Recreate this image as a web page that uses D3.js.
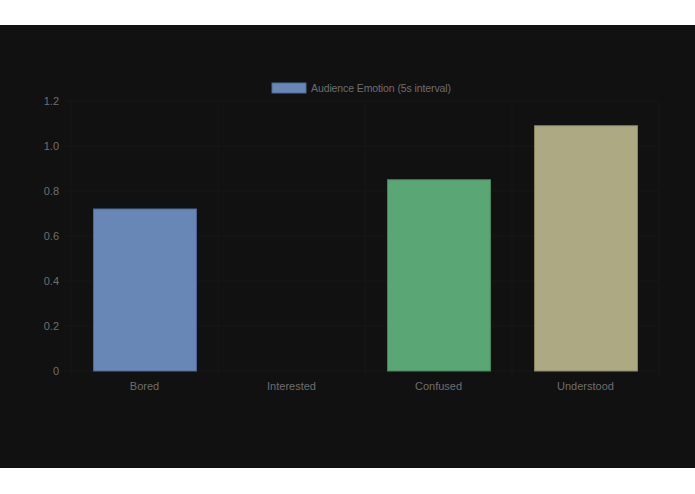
<!DOCTYPE html>
<html lang="en">
<head>
<meta charset="UTF-8">
<title>Audience Emotion</title>
<script src="https://d3js.org/d3.v7.min.js"></script>
<style>
    html, body { margin: 0; padding: 0; background: #fff; }
    svg { display: block; }
    text { font-family: "Liberation Sans", Arial, sans-serif; }
</style>
</head>
<body>
<svg width="695" height="494"></svg>
<script>
    const categories = ["Bored", "Interested", "Confused", "Understood"];
    const values = [0.72, 0, 0.85, 1.09];
    const barColors = ["#6886b6", "#6886b6", "#5ba675", "#aca983"];
    const borderColors = ["#4e6a96", "#4e6a96", "#47875d", "#8c8966"];
    const yTicks = [0, 0.2, 0.4, 0.6, 0.8, 1.0, 1.2];
    const seriesName = "Audience Emotion (5s interval)";

    const svg = d3.select("svg");
    const margin = {top: 101, right: 36, bottom: 123, left: 71};
    const width = 695 - margin.left - margin.right,
          height = 494 - margin.top - margin.bottom;

    // dark panel
    svg.append("rect")
        .attr("x", 0).attr("y", 25)
        .attr("width", 695).attr("height", 443)
        .attr("fill", "#111111");

    const g = svg.append("g")
        .attr("transform", `translate(${margin.left},${margin.top})`);

    const x = d3.scaleBand().domain(categories).range([0, width]);
    const y = d3.scaleLinear().domain([0, 1.2]).range([height, 0]);

    // grid lines (barely visible)
    g.append("g")
        .selectAll("line")
        .data(yTicks)
        .join("line")
        .attr("x1", -7).attr("x2", width)
        .attr("y1", d => y(d)).attr("y2", d => y(d))
        .attr("stroke", "rgba(255,255,255,0.025)");

    g.append("g")
        .selectAll("line")
        .data(d3.range(categories.length + 1))
        .join("line")
        .attr("x1", i => i * x.step()).attr("x2", i => i * x.step())
        .attr("y1", 0).attr("y2", height + 7)
        .attr("stroke", "rgba(255,255,255,0.025)");

    // y axis labels
    const yAxis = g.append("g")
        .attr("transform", "translate(-9,0)")
        .call(d3.axisLeft(y).tickValues(yTicks).tickSize(0)
            .tickFormat(d => d === 0 ? "0" : d3.format(".1f")(d)));
    yAxis.select(".domain").remove();
    yAxis.selectAll("text").attr("fill", "#6e6e6e").attr("font-size", 11);

    // x axis labels
    const xAxis = g.append("g")
        .attr("transform", `translate(0,${height + 8})`)
        .call(d3.axisBottom(x).tickSize(0));
    xAxis.select(".domain").remove();
    xAxis.selectAll("text").attr("fill", "#6e6e6e").attr("font-size", 11);

    // bars
    const barW = x.bandwidth() * 0.7;
    g.selectAll(".bar")
        .data(categories)
        .join("rect")
        .attr("class", "bar")
        .attr("x", d => x(d) + (x.bandwidth() - barW) / 2 + 0.5)
        .attr("width", barW)
        .attr("y", (d, i) => y(values[i]))
        .attr("height", (d, i) => height - y(values[i]))
        .attr("fill", (d, i) => barColors[i])
        .attr("stroke", (d, i) => borderColors[i])
        .attr("stroke-width", (d, i) => values[i] > 0 ? 1 : 0);

    // legend
    const legend = svg.append("g").attr("transform", "translate(272,83)");
    legend.append("rect")
        .attr("width", 34).attr("height", 10)
        .attr("fill", barColors[0]).attr("stroke", borderColors[0]);
    legend.append("text")
        .attr("x", 39).attr("y", 9)
        .attr("fill", "#6e6e6e").attr("font-size", 10.5)
        .attr("textLength", 140)
        .text(seriesName);
</script>
</body>
</html>
